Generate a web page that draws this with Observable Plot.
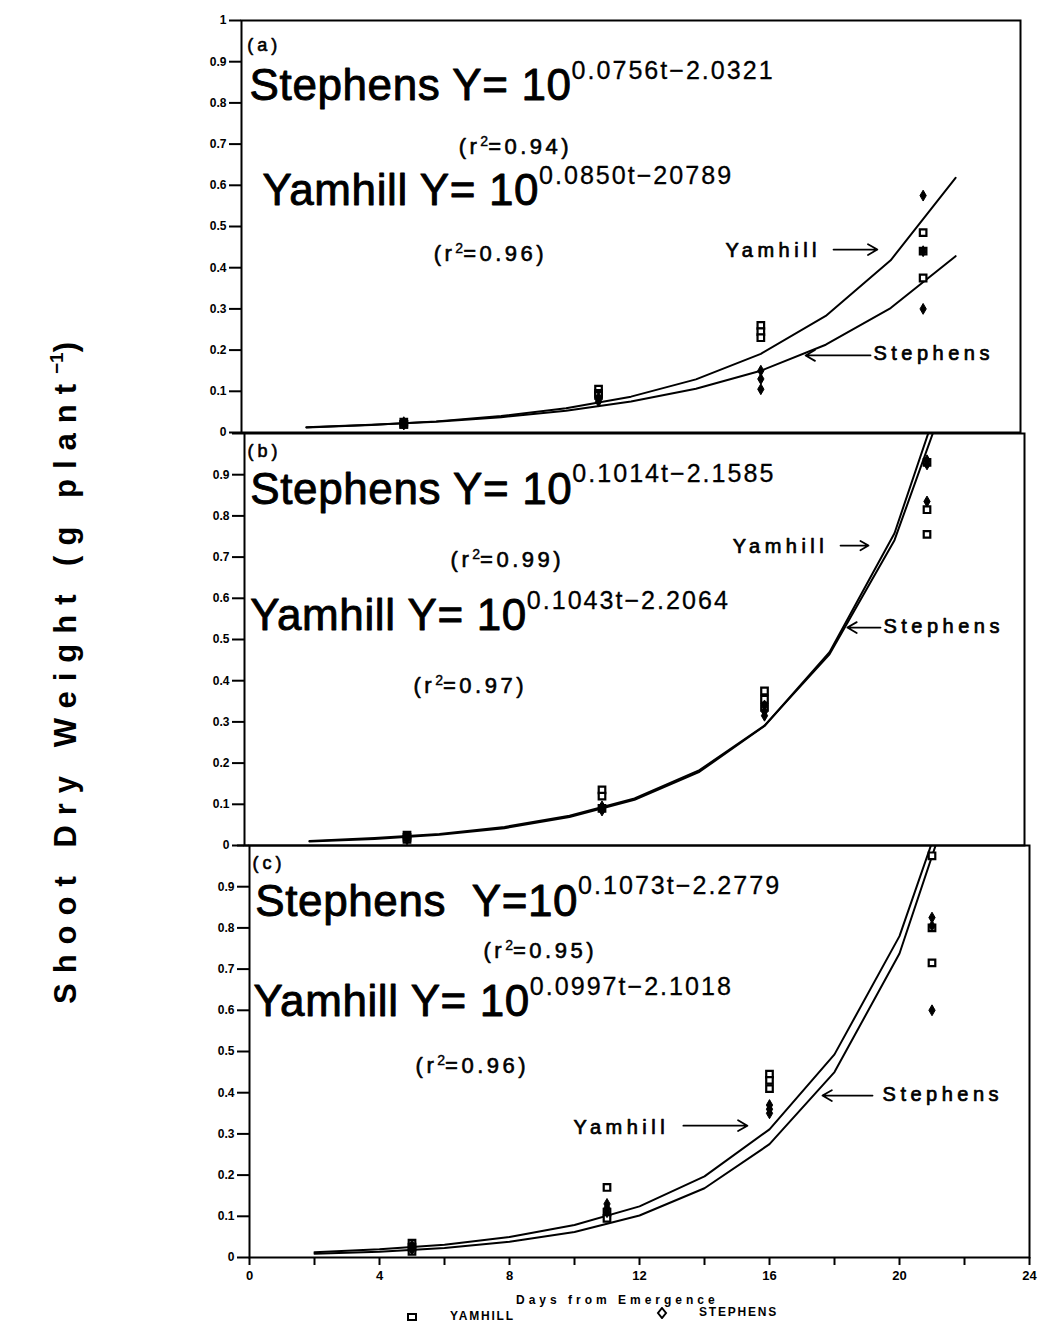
<!DOCTYPE html>
<html><head><meta charset="utf-8">
<script src="https://cdn.jsdelivr.net/npm/d3@7"></script>
<script src="https://cdn.jsdelivr.net/npm/@observablehq/plot@0.6"></script>
<style>
body{margin:0;background:#fff;}
#wrap{position:relative;width:1041px;height:1326px;overflow:hidden;background:#fff;font-family:"Liberation Sans",Arial,Helvetica,sans-serif;color:#000;}
.panel{position:absolute;left:0;}
#ylab{position:absolute;left:66px;top:668px;transform:translate(-50%,-50%) rotate(-90deg);white-space:nowrap;font-weight:bold;font-size:31px;letter-spacing:10px;}
#ylab sup{font-size:19px;letter-spacing:0;vertical-align:0;position:relative;top:-13px;}
#xlab{position:absolute;left:516px;top:1293px;font-weight:bold;font-size:12px;letter-spacing:4px;white-space:nowrap;}
.leg{position:absolute;top:1309px;font-weight:bold;font-size:12px;letter-spacing:1.8px;white-space:nowrap;}
.leg svg{vertical-align:middle;}
</style>
</head><body>
<div id="wrap">
  <div id="ylab">Shoot Dry Weight (g plant<sup>−1</sup>)</div>
  <div id="xlab">Days from Emergence</div>
  <div class="leg" style="left:406px;"><svg width="12" height="12" style="margin-right:32px"><rect x="2" y="3" width="8" height="6" fill="white" stroke="black" stroke-width="2"/></svg>YAMHILL</div>
  <div class="leg" style="left:656px;top:1305px;"><svg width="12" height="12" style="margin-right:31px"><path d="M6 1 L10 6 L6 11 L2 6 Z" fill="none" stroke="black" stroke-width="2"/></svg>STEPHENS</div>
</div>
<script>
// ---------------- data ----------------
const panels = ["a", "b", "c"];
const yTicks = [0, 0.1, 0.2, 0.3, 0.4, 0.5, 0.6, 0.7, 0.8, 0.9, 1];
const xTicks = [0, 2, 4, 6, 8, 10, 12, 14, 16, 18, 20, 22, 24];
const xTickLabels = ["0", "", "4", "", "8", "", "12", "", "16", "", "20", "", "24"];

// fitted curves, read at every 2 days
const curveDays = [2, 4, 6, 8, 10, 12, 14, 16, 18, 20, 22];
const curveStephensA = [0.013, 0.019, 0.026, 0.037, 0.053, 0.075, 0.106, 0.150, 0.213, 0.302, 0.428];
const curveYamhillA  = [0.012, 0.018, 0.027, 0.040, 0.059, 0.087, 0.129, 0.191, 0.283, 0.418, 0.618];
const curveStephensB = [0.011, 0.018, 0.028, 0.045, 0.072, 0.114, 0.183, 0.291, 0.464, 0.741, 1.181];
const curveYamhillB  = [0.010, 0.016, 0.026, 0.042, 0.069, 0.111, 0.179, 0.290, 0.469, 0.758, 1.225];
const curveStephensC = [0.009, 0.014, 0.023, 0.038, 0.062, 0.102, 0.168, 0.275, 0.450, 0.738, 1.210];
const curveYamhillC  = [0.013, 0.020, 0.031, 0.050, 0.079, 0.124, 0.197, 0.311, 0.493, 0.780, 1.235];

// observations (3 per sampling day)
const sampleDays = [5, 5, 5, 11, 11, 11, 16, 16, 16, 21, 21, 21];
const yamhillA  = [0.025, 0.020, 0.020, 0.105, 0.095, 0.090, 0.260, 0.245, 0.230, 0.485, 0.440, 0.375];
const stephensA = [0.020, 0.020, 0.025, 0.085, 0.080, 0.075, 0.150, 0.130, 0.105, 0.575, 0.440, 0.300];
const yamhillB  = [0.025, 0.020, 0.015, 0.135, 0.120, 0.090, 0.375, 0.355, 0.335, 0.930, 0.815, 0.755];
const stephensB = [0.020, 0.020, 0.015, 0.095, 0.090, 0.085, 0.340, 0.325, 0.315, 0.935, 0.925, 0.835];
const yamhillC  = [0.035, 0.025, 0.015, 0.170, 0.110, 0.095, 0.445, 0.430, 0.410, 0.975, 0.800, 0.715];
const stephensC = [0.030, 0.020, 0.020, 0.130, 0.120, 0.110, 0.370, 0.360, 0.350, 0.825, 0.805, 0.600];

// regression text
const eqStephens = ["0.0756t−2.0321", "0.1014t−2.1585", "0.1073t−2.2779"];
const eqYamhill  = ["0.0850t−20789", "0.1043t−2.2064", "0.0997t−2.1018"];
const r2Stephens = ["0.94", "0.99", "0.95"];
const r2Yamhill  = ["0.96", "0.97", "0.96"];
const eqPrefixStephens = ["Stephens Y= 10", "Stephens Y= 10", "Stephens\u00a0\u00a0Y=10"];
const eqPrefixYamhill  = ["Yamhill Y= 10", "Yamhill Y= 10", "Yamhill Y= 10"];

const series = {
  a: {sc: curveStephensA, yc: curveYamhillA, sp: stephensA, yp: yamhillA},
  b: {sc: curveStephensB, yc: curveYamhillB, sp: stephensB, yp: yamhillB},
  c: {sc: curveStephensC, yc: curveYamhillC, sp: stephensC, yp: yamhillC}
};

// ---------------- layout (positions in data units) ----------------
const layout = {
  a: {top: 0,   mt: 20, mb: 10, ml: 241, mr: 21, topLabel: true,  xAxis: false,
      tag: [0.18, 0.927], sEq: [0.25, 0.806], sR2: [6.69, 0.677], yEq: [0.65, 0.553], yR2: [5.92, 0.417],
      yLab: [14.91, 0.425], yArr: [18.24, 0.444, 19.59, 0.444], sLab: [19.47, 0.175], sArr: [19.38, 0.187, 17.38, 0.187]},
  b: {top: 423, mt: 10, mb: 10, ml: 244, mr: 17, topLabel: false, xAxis: false,
      tag: [0.09, 0.944], sEq: [0.18, 0.830], sR2: [6.34, 0.677], yEq: [0.18, 0.522], yR2: [5.2, 0.371],
      yLab: [15.02, 0.711], yArr: [18.34, 0.728, 19.2, 0.728], sLab: [19.66, 0.515], sArr: [19.57, 0.529, 18.55, 0.529]},
  c: {top: 835, mt: 10, mb: 45, ml: 249, mr: 12, topLabel: false, xAxis: true,
      tag: [0.09, 0.942], sEq: [0.18, 0.830], sR2: [7.2, 0.726], yEq: [0.12, 0.587], yR2: [5.11, 0.449],
      yLab: [9.97, 0.299], yArr: [13.35, 0.320, 15.32, 0.320], sLab: [19.48, 0.381], sArr: [19.17, 0.393, 17.63, 0.393]}
};
const FONT = '"Liberation Sans", Arial, Helvetica, sans-serif';
const PLOT_H = 412;

const textStyle = {
  44: {ls: 0.6, sup: 0.57, rise: 0.48, supLs: 2, supStroke: 0.3},
  22: {ls: 3.5, sup: 0.64, rise: 0.36, supLs: 0, supStroke: 0.4},
  20: {ls: 4.5},
  18: {ls: 4}
};

function richText(svg) {
  const ns = "http://www.w3.org/2000/svg";
  d3.select(svg).selectAll('g[aria-label="text"] text').each(function() {
    const s = this.textContent;
    const fs = Math.round(parseFloat(getComputedStyle(this).fontSize));
    const st = textStyle[fs] || {ls: 0};
    this.setAttribute("letter-spacing", st.ls);
    if (!s.includes("{")) return;
    this.textContent = "";
    const parts = s.split(/(\{[^}]*\})/);
    let raised = false;
    for (const p of parts) {
      if (!p) continue;
      const sp = document.createElementNS(ns, "tspan");
      if (p.startsWith("{")) {
        sp.textContent = p.slice(1, -1);
        sp.setAttribute("font-size", fs * st.sup);
        sp.setAttribute("dy", -fs * st.rise);
        if (st.supLs != null) sp.setAttribute("letter-spacing", st.supLs);
        if (st.supStroke != null) sp.setAttribute("stroke-width", st.supStroke);
        raised = true;
      } else {
        sp.textContent = p;
        if (raised) { sp.setAttribute("dy", fs * st.rise); raised = false; }
      }
      this.appendChild(sp);
    }
  });
}

const wrap = document.getElementById("wrap");
panels.forEach((key, i) => {
  const L = layout[key];
  const S = series[key];
  const curves = [];
  curveDays.forEach((t, j) => {
    curves.push({t, v: S.sc[j], cv: "Stephens"});
  });
  curveDays.forEach((t, j) => {
    curves.push({t, v: S.yc[j], cv: "Yamhill"});
  });
  const yPts = sampleDays.map((t, j) => ({t, v: S.yp[j]}));
  const sPts = sampleDays.map((t, j) => ({t, v: S.sp[j]}));

  const big = [
    {x: L.sEq[0], y: L.sEq[1], s: `${eqPrefixStephens[i]}{${eqStephens[i]}}`},
    {x: L.yEq[0], y: L.yEq[1], s: `${eqPrefixYamhill[i]}{${eqYamhill[i]}}`}
  ];
  const mid = [
    {x: L.sR2[0], y: L.sR2[1], s: `(r{2}=${r2Stephens[i]})`},
    {x: L.yR2[0], y: L.yR2[1], s: `(r{2}=${r2Yamhill[i]})`}
  ];
  const small = [
    {x: L.yLab[0], y: L.yLab[1], s: "Yamhill"},
    {x: L.sLab[0], y: L.sLab[1], s: "Stephens"}
  ];
  const tag = [{x: L.tag[0], y: L.tag[1], s: `(${key})`}];
  const arrows = [
    {x1: L.yArr[0], y1: L.yArr[1], x2: L.yArr[2], y2: L.yArr[3]},
    {x1: L.sArr[0], y1: L.sArr[1], x2: L.sArr[2], y2: L.sArr[3]}
  ];

  const marks = [
    Plot.frame({stroke: "black", strokeWidth: 2}),
    Plot.axisY({ticks: yTicks, tickSize: 12, tickPadding: 3, strokeWidth: 2,
      tickFormat: d => d === 0 ? "0" : d === 1 ? (L.topLabel ? "1" : "") : d.toFixed(1),
      fontSize: 12, fontWeight: "bold"}),
    Plot.line(curves, {x: "t", y: "v", z: "cv", stroke: "black", strokeWidth: 2, clip: true}),
    Plot.dot(yPts, {x: "t", y: "v", symbol: "square", r: 3.7, fill: "white", stroke: "black", strokeWidth: 2.2}),
    Plot.dot(sPts, {x: "t", y: "v", symbol: "diamond", r: 3.3, fill: "black", stroke: "black", strokeWidth: 1}),
    Plot.text(big, {x: "x", y: "y", text: "s", textAnchor: "start", lineAnchor: "bottom", fontSize: 44, fontWeight: "normal", fill: "black", stroke: "black", strokeWidth: 0.9}),
    Plot.text(mid, {x: "x", y: "y", text: "s", textAnchor: "start", lineAnchor: "bottom", fontSize: 22, fontWeight: "normal", fill: "black", stroke: "black", strokeWidth: 0.6}),
    Plot.text(small, {x: "x", y: "y", text: "s", textAnchor: "start", lineAnchor: "bottom", fontSize: 20, fontWeight: "normal", fill: "black", stroke: "black", strokeWidth: 0.7}),
    Plot.text(tag, {x: "x", y: "y", text: "s", textAnchor: "start", lineAnchor: "bottom", fontSize: 18, fontWeight: "normal", fill: "black", stroke: "black", strokeWidth: 0.6}),
    Plot.arrow(arrows, {x1: "x1", y1: "y1", x2: "x2", y2: "y2", stroke: "black", strokeWidth: 1.8, headLength: 9})
  ];
  if (L.xAxis) {
    marks.push(Plot.axisX({ticks: xTicks, tickSize: 8, tickPadding: 5, strokeWidth: 2,
      tickFormat: d => xTickLabels[xTicks.indexOf(d)], fontSize: 13, fontWeight: "bold"}));
  }
  const chart = Plot.plot({
    width: 1041,
    height: L.mt + PLOT_H + L.mb,
    marginTop: L.mt, marginBottom: L.mb, marginLeft: L.ml, marginRight: L.mr,
    x: {domain: [0, 24], axis: null},
    y: {domain: [0, 1], axis: null},
    style: {fontFamily: FONT, fontSize: "12px", fontWeight: "bold", background: "transparent", color: "black", overflow: "visible"},
    marks
  });
  chart.classList.add("panel");
  chart.style.top = L.top + "px";
  chart.style.position = "absolute";
  wrap.appendChild(chart);
  richText(chart);
});
</script>
</body></html>
